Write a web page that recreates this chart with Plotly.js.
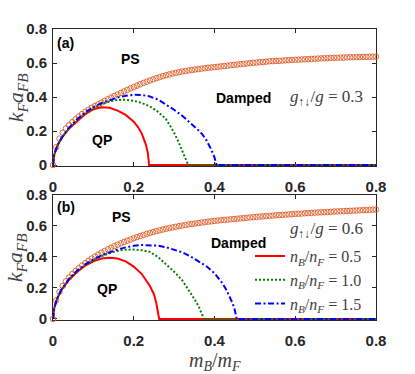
<!DOCTYPE html>
<html>
<head>
<meta charset="utf-8">
<script src="https://cdn.plot.ly/plotly-3.0.1.min.js"></script>
<style>html,body{margin:0;padding:0;background:#fff;}#chart{width:415px;height:374px;}</style>
</head>
<body>
<div id="chart"></div>
<script>
// ---- data ----
// phase-separation boundary (orange circles), sampled at these mass ratios
const psX = [0,0.008,0.016,0.024,0.032,0.04,0.048,0.056,0.064,0.072,0.08,0.088,0.096,0.104,0.112,0.12,0.128,0.136,0.144,0.152,0.16,0.168,0.176,0.184,0.192,0.2,0.208,0.216,0.224,0.232,0.24,0.248,0.256,0.264,0.272,0.28,0.288,0.296,0.304,0.312,0.32,0.328,0.336,0.344,0.352,0.36,0.368,0.376,0.384,0.392,0.4,0.408,0.416,0.424,0.432,0.44,0.448,0.456,0.464,0.472,0.48,0.488,0.496,0.504,0.512,0.52,0.528,0.536,0.544,0.552,0.56,0.568,0.576,0.584,0.592,0.6,0.608,0.616,0.624,0.632,0.64,0.648,0.656,0.664,0.672,0.68,0.688,0.696,0.704,0.712,0.72,0.728,0.736,0.744,0.752,0.76,0.768,0.776,0.784,0.792,0.8];
const psA = [0,0.105,0.155,0.19,0.215,0.235,0.253,0.27,0.286,0.3,0.313,0.325,0.336,0.347,0.357,0.367,0.377,0.387,0.397,0.406,0.415,0.424,0.433,0.442,0.451,0.459,0.467,0.475,0.483,0.49,0.497,0.504,0.511,0.517,0.523,0.528,0.533,0.538,0.542,0.546,0.55,0.553,0.556,0.559,0.562,0.564,0.567,0.569,0.572,0.574,0.576,0.578,0.58,0.582,0.584,0.587,0.589,0.591,0.593,0.595,0.597,0.599,0.601,0.603,0.605,0.606,0.608,0.61,0.611,0.612,0.613,0.614,0.616,0.617,0.618,0.619,0.62,0.621,0.622,0.623,0.624,0.625,0.626,0.627,0.628,0.629,0.63,0.631,0.631,0.632,0.632,0.633,0.634,0.634,0.635,0.635,0.636,0.636,0.637,0.637,0.638];
const psB = [0,0.12,0.175,0.213,0.243,0.268,0.29,0.31,0.328,0.345,0.361,0.376,0.39,0.403,0.416,0.428,0.439,0.45,0.46,0.47,0.479,0.488,0.497,0.505,0.513,0.521,0.528,0.535,0.542,0.549,0.555,0.561,0.567,0.572,0.577,0.582,0.587,0.591,0.595,0.599,0.603,0.607,0.61,0.613,0.616,0.619,0.622,0.625,0.628,0.63,0.633,0.635,0.637,0.639,0.641,0.643,0.645,0.647,0.649,0.651,0.653,0.655,0.657,0.659,0.661,0.662,0.664,0.666,0.667,0.669,0.67,0.672,0.673,0.675,0.676,0.678,0.679,0.68,0.682,0.683,0.684,0.686,0.687,0.688,0.689,0.69,0.691,0.693,0.694,0.695,0.696,0.697,0.698,0.699,0.7,0.701,0.702,0.703,0.704,0.705,0.706];

// panel (a): g_updown/g = 0.3
const a05X = [0,0.003,0.01,0.02,0.04,0.06,0.08,0.1,0.12,0.14,0.16,0.18,0.2,0.21,0.22,0.23,0.235,0.238,0.8];
const a05Y = [0,0.06,0.11,0.155,0.215,0.26,0.3,0.328,0.34,0.337,0.32,0.295,0.255,0.225,0.185,0.12,0.07,0,0];
const a10X = [0,0.003,0.01,0.02,0.04,0.06,0.08,0.1,0.12,0.14,0.16,0.18,0.2,0.22,0.24,0.26,0.28,0.3,0.31,0.32,0.33,0.335,0.8];
const a10Y = [0,0.06,0.11,0.155,0.218,0.265,0.305,0.335,0.358,0.374,0.383,0.384,0.378,0.365,0.345,0.313,0.27,0.19,0.14,0.085,0.03,0,0];
const a15X = [0,0.003,0.01,0.02,0.04,0.06,0.08,0.1,0.12,0.14,0.16,0.18,0.2,0.22,0.24,0.26,0.28,0.3,0.32,0.34,0.36,0.37,0.38,0.39,0.4,0.405,0.8];
const a15Y = [0,0.06,0.11,0.155,0.22,0.27,0.31,0.34,0.364,0.382,0.397,0.407,0.413,0.412,0.403,0.385,0.357,0.325,0.29,0.25,0.205,0.18,0.145,0.1,0.045,0,0];

// panel (b): g_updown/g = 0.6
const b05X = [0,0.003,0.01,0.02,0.04,0.06,0.08,0.1,0.12,0.14,0.16,0.18,0.2,0.22,0.24,0.25,0.256,0.26,0.263,0.8];
const b05Y = [0,0.07,0.13,0.185,0.255,0.305,0.345,0.372,0.39,0.395,0.39,0.372,0.338,0.29,0.213,0.16,0.1,0.05,0,0];
const b10X = [0,0.003,0.01,0.02,0.04,0.06,0.08,0.1,0.12,0.14,0.16,0.18,0.2,0.22,0.24,0.26,0.28,0.3,0.32,0.34,0.35,0.36,0.37,0.374,0.8];
const b10Y = [0,0.07,0.13,0.185,0.26,0.31,0.35,0.38,0.405,0.425,0.44,0.447,0.448,0.443,0.433,0.4,0.355,0.305,0.25,0.175,0.13,0.085,0.03,0,0];
const b15X = [0,0.003,0.01,0.02,0.04,0.06,0.08,0.1,0.12,0.14,0.16,0.18,0.2,0.22,0.24,0.26,0.28,0.3,0.32,0.34,0.36,0.38,0.4,0.41,0.42,0.43,0.44,0.445,0.45,0.455,0.8];
const b15Y = [0,0.07,0.13,0.185,0.26,0.312,0.352,0.385,0.41,0.43,0.448,0.462,0.472,0.477,0.477,0.473,0.463,0.449,0.43,0.405,0.375,0.34,0.295,0.265,0.23,0.185,0.13,0.1,0.06,0,0];

const legendNames = ['<i>n</i><sub><i>B</i></sub>/<i>n</i><sub><i>F</i></sub> = 0.5',
                     '<i>n</i><sub><i>B</i></sub>/<i>n</i><sub><i>F</i></sub> = 1.0',
                     '<i>n</i><sub><i>B</i></sub>/<i>n</i><sub><i>F</i></sub> = 1.5'];
const xTickVals = [0,0.2,0.4,0.6,0.8];
const yTickVals = [0,0.2,0.4,0.6,0.8];
const yTitle = '<i>k</i><sub><i>F</i></sub><i>a</i><sub><i>FB</i></sub>';
const xTitle = '<i>m</i><sub><i>B</i></sub>/<i>m</i><sub><i>F</i></sub>';

// ---- styling ----
const RED = '#FF0000', GREEN = '#008000', BLUE = '#0000FF', ORANGE = '#DE5B26';
const AX = '#262626';
const SERIF = 'Liberation Serif, Times New Roman, serif';
const SANS = 'Liberation Sans, Arial, sans-serif';

function lineTrace(x, y, color, dash, xa, ya, name, show) {
  return {x: x, y: y, type: 'scatter', mode: 'lines', xaxis: xa, yaxis: ya,
          name: name, showlegend: show, cliponaxis: false,
          line: {color: color, width: 2, dash: dash}};
}
function psTrace(y, xa, ya) {
  return {x: psX, y: y, type: 'scatter', mode: 'markers', xaxis: xa, yaxis: ya,
          showlegend: false, cliponaxis: false,
          marker: {symbol: 'circle-open', size: 5.5, color: ORANGE, line: {width: 0.9, color: ORANGE}}};
}
const DOT = '2px,2px';
const DASHDOT = '6px,2.5px,2px,2.5px';

const traces = [
  psTrace(psA, 'x', 'y'),
  lineTrace(a05X, a05Y, RED, 'solid', 'x', 'y', legendNames[0], false),
  lineTrace(a10X, a10Y, GREEN, DOT, 'x', 'y', legendNames[1], false),
  lineTrace(a15X, a15Y, BLUE, DASHDOT, 'x', 'y', legendNames[2], false),
  psTrace(psB, 'x2', 'y2'),
  lineTrace(b05X, b05Y, RED, 'solid', 'x2', 'y2', legendNames[0], true),
  lineTrace(b10X, b10Y, GREEN, DOT, 'x2', 'y2', legendNames[1], true),
  lineTrace(b15X, b15Y, BLUE, DASHDOT, 'x2', 'y2', legendNames[2], true)
];

const tickFont = {family: SANS, size: 15, color: AX, weight: 'bold'};
function xAxis(anchor) {
  return {anchor: anchor, domain: [0, 1], range: [0, 0.8], tickvals: xTickVals,
    ticktext: xTickVals.map(v => v === 0 ? '0' : v.toFixed(1)),
    ticks: 'inside', ticklen: 4, tickwidth: 1, tickcolor: AX,
    showline: true, linecolor: AX, linewidth: 1, mirror: 'ticks',
    showgrid: false, zeroline: false, layer: 'below traces',
    tickfont: tickFont, ticklabelstandoff: 7};
}
function yAxis(anchor, domain, lo) {
  return {anchor: anchor, domain: domain, range: [lo, 0.8], tickvals: yTickVals,
    ticktext: yTickVals.map(v => v === 0 ? '0' : v.toFixed(1)),
    ticks: 'inside', ticklen: 4, tickwidth: 1, tickcolor: AX,
    showline: true, linecolor: AX, linewidth: 1, mirror: 'ticks',
    showgrid: false, zeroline: false, layer: 'below traces',
    tickfont: tickFont, ticklabelstandoff: 2};
}

const boldLbl = {family: SANS, size: 14, color: '#000', weight: 'bold'};
const mathLbl = {family: SERIF, size: 17, color: '#404040'};
const titleFont = {family: SERIF, size: 22, color: '#404040'};
function ann(text, x, y, xr, yr, font, xanchor) {
  return {text: text, x: x, y: y, xref: xr, yref: yr, showarrow: false,
          font: font, xanchor: xanchor || 'center', yanchor: 'middle'};
}
const annotations = [
  ann('(a)', 0.006, 0.718, 'x', 'y', boldLbl, 'left'),
  ann('PS', 0.191, 0.624, 'x', 'y', boldLbl),
  ann('QP', 0.122, 0.15, 'x', 'y', boldLbl),
  ann('Damped', 0.473, 0.394, 'x', 'y', boldLbl),
  ann('<i>g</i><sub>↑↓</sub>/<i>g</i> = 0.3', 0.678, 0.395, 'x', 'y', mathLbl),
  ann('(b)', 0.006, 0.725, 'x2', 'y2', boldLbl, 'left'),
  ann('PS', 0.17, 0.661, 'x2', 'y2', boldLbl),
  ann('QP', 0.134, 0.192, 'x2', 'y2', boldLbl),
  ann('Damped', 0.46, 0.488, 'x2', 'y2', boldLbl),
  ann('<i>g</i><sub>↑↓</sub>/<i>g</i> = 0.6', 0.678, 0.573, 'x2', 'y2', mathLbl),
  // axis titles
  Object.assign(ann(yTitle, -0.112, 0.7645, 'paper', 'paper', titleFont), {textangle: -90}),
  Object.assign(ann(yTitle, -0.112, 0.2148, 'paper', 'paper', titleFont), {textangle: -90}),
  ann(xTitle, 0.5, -0.141, 'paper', 'paper', {family: SERIF, size: 20, color: '#404040'})
];

const layout = {
  width: 415, height: 374,
  margin: {l: 53, r: 39, t: 29, b: 54, pad: 0},
  paper_bgcolor: '#fff', plot_bgcolor: '#fff',
  xaxis: xAxis('y'),
  yaxis: yAxis('x', [0.529, 1], -0.006),
  xaxis2: xAxis('y2'),
  yaxis2: yAxis('x2', [0, 0.4296], -0.0065),
  showlegend: true,
  legend: {x: 0.61, y: 0.278, xanchor: 'left', yanchor: 'top',
           bgcolor: 'rgba(0,0,0,0)', borderwidth: 0,
           font: {family: SERIF, size: 16, color: '#404040'},
           tracegroupgap: 0, itemwidth: 30},
  annotations: annotations
};

Plotly.newPlot('chart', traces, layout, {staticPlot: true, displayModeBar: false});
</script>
</body>
</html>
